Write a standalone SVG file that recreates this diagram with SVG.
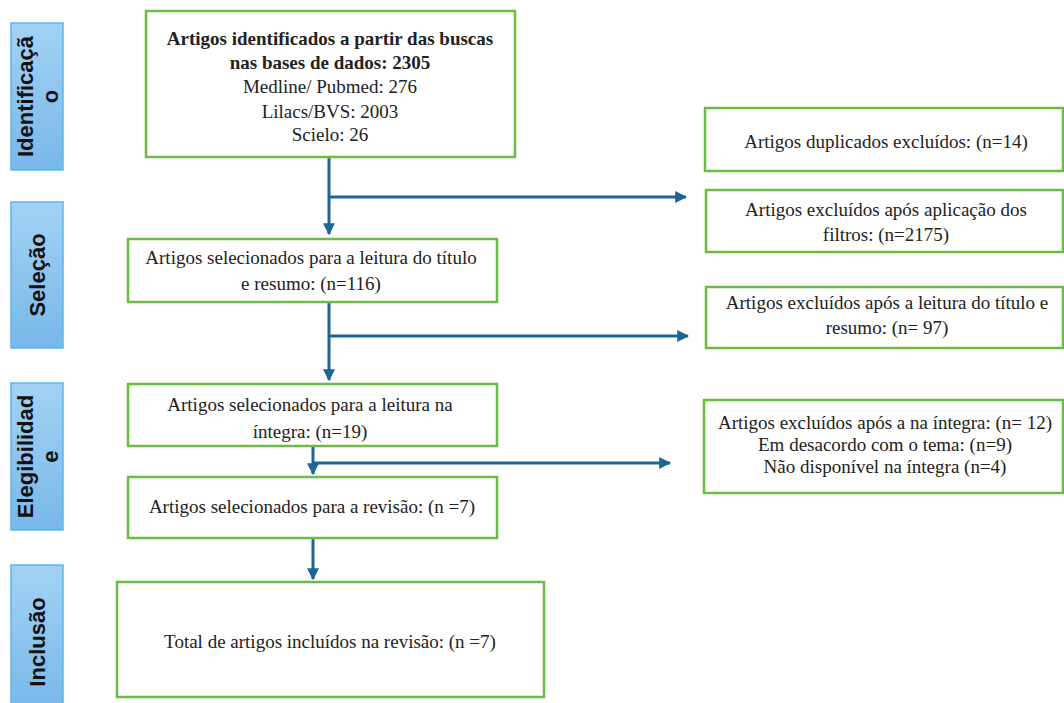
<svg xmlns="http://www.w3.org/2000/svg" width="1064" height="703" viewBox="0 0 1064 703">
<style>
.box{fill:#fff;stroke:#6cbb45;stroke-width:2.5}
.side{fill:url(#sg);stroke:#5cb6ea;stroke-width:1.5}
.t{font-family:"Liberation Serif","Times New Roman",serif;font-size:19px;fill:#222;text-anchor:middle}
.b{font-weight:bold}
.s{font-family:"Liberation Sans",Arial,sans-serif;font-size:22px;font-weight:bold;fill:#111;text-anchor:middle}
.c{fill:none;stroke:#1f6591;stroke-width:3}
</style>
<defs>
<linearGradient id="sg" x1="0" y1="0" x2="0" y2="1">
<stop offset="0" stop-color="#a2d2f5"/>
<stop offset="1" stop-color="#78b8e9"/>
</linearGradient>
<marker id="ah" viewBox="0 0 10 10" refX="9" refY="5" markerWidth="4" markerHeight="4" markerUnits="strokeWidth" orient="auto">
<path d="M0,0 L10,5 L0,10 z" fill="#1f6591"/>
</marker>
</defs>
<rect width="1064" height="703" fill="#fff"/>

<g id="side-identificacao">
<rect class="side" x="11" y="23" width="52" height="147"/>
<text class="s" transform="translate(33,96.5) rotate(-90)"><tspan x="0" y="0">Identificaçã</tspan><tspan x="0" y="25">o</tspan></text>
</g>
<g id="side-selecao">
<rect class="side" x="11" y="202" width="52" height="146"/>
<text class="s" transform="translate(45,275) rotate(-90)">Seleção</text>
</g>
<g id="side-elegibilidade">
<rect class="side" x="11" y="383" width="52" height="147"/>
<text class="s" transform="translate(33,456.5) rotate(-90)"><tspan x="0" y="0">Elegibilidad</tspan><tspan x="0" y="25">e</tspan></text>
</g>
<g id="side-inclusao">
<rect class="side" x="11" y="565" width="52" height="145"/>
<text class="s" transform="translate(45,642) rotate(-90)">Inclusão</text>
</g>

<g id="connectors">
<path class="c" d="M329,157 V234" marker-end="url(#ah)"/>
<path class="c" d="M329,197 H686" marker-end="url(#ah)"/>
<path class="c" d="M329,302 V380" marker-end="url(#ah)"/>
<path class="c" d="M329,336 H688" marker-end="url(#ah)"/>
<path class="c" d="M313,446 V474" marker-end="url(#ah)"/>
<path class="c" d="M313,463 H670" marker-end="url(#ah)"/>
<path class="c" d="M313,538 V579" marker-end="url(#ah)"/>
</g>

<g id="n-identificados">
<rect class="box" x="146" y="11" width="369" height="146"/>
<text class="t b" x="330" y="45">Artigos identificados a partir das buscas</text>
<text class="t b" x="330" y="69">nas bases de dados: 2305</text>
<text class="t" x="330" y="93">Medline/ Pubmed: 276</text>
<text class="t" x="330" y="118">Lilacs/BVS: 2003</text>
<text class="t" x="330" y="141">Scielo: 26</text>
</g>

<g id="n-selecionados-titulo">
<rect class="box" x="128" y="239" width="369" height="63"/>
<text class="t" x="311" y="264">Artigos selecionados para a leitura do título</text>
<text class="t" x="311" y="290">e resumo: (n=116)</text>
</g>

<g id="n-selecionados-integra">
<rect class="box" x="128" y="384" width="369" height="62"/>
<text class="t" x="310" y="411">Artigos selecionados para a leitura na</text>
<text class="t" x="310" y="438">íntegra: (n=19)</text>
</g>

<g id="n-selecionados-revisao">
<rect class="box" x="128" y="477" width="369" height="61"/>
<text class="t" x="312" y="513">Artigos selecionados para a revisão: (n =7)</text>
</g>

<g id="n-total">
<rect class="box" x="117" y="582" width="427" height="115"/>
<text class="t" x="330" y="648">Total de artigos incluídos na revisão: (n =7)</text>
</g>

<g id="n-duplicados">
<rect class="box" x="705" y="108" width="358" height="63"/>
<text class="t" x="886" y="148">Artigos duplicados excluídos: (n=14)</text>
</g>

<g id="n-filtros">
<rect class="box" x="706" y="190" width="357" height="62"/>
<text class="t" x="886" y="216">Artigos excluídos após aplicação dos</text>
<text class="t" x="886" y="241">filtros: (n=2175)</text>
</g>

<g id="n-excl-titulo">
<rect class="box" x="706" y="287" width="357" height="61"/>
<text class="t" x="887" y="309">Artigos excluídos após a leitura do título e</text>
<text class="t" x="887" y="334">resumo: (n= 97)</text>
</g>

<g id="n-excl-integra">
<rect class="box" x="704" y="400" width="359" height="93"/>
<text class="t" x="885" y="429">Artigos excluídos após a na íntegra: (n= 12)</text>
<text class="t" x="885" y="451">Em desacordo com o tema: (n=9)</text>
<text class="t" x="885" y="473">Não disponível na íntegra (n=4)</text>
</g>
</svg>
